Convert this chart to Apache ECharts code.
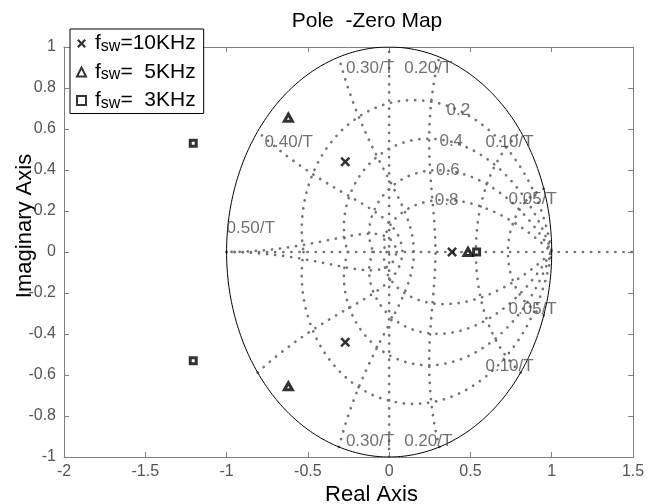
<!DOCTYPE html>
<html><head><meta charset="utf-8">
<script src="https://cdn.jsdelivr.net/npm/echarts@6/dist/echarts.min.js"></script>
<style>html,body{margin:0;padding:0;background:#fff}#c{width:650px;height:504px}</style>
</head><body><div id="c"></div>
<script>
// ---- data ----
const seriesNames = ['f_sw=10KHz', 'f_sw=  5KHz', 'f_sw=  3KHz'];
const poles10k = [[-0.27, 0.44], [-0.27, -0.44], [0.387, 0]];
const poles5k  = [[-0.62, 0.655], [-0.62, -0.655], [0.485, 0]];
const poles3k  = [[-1.205, 0.53], [-1.205, -0.53], [0.538, 0]];
// z-plane grid definition
const dampingRatios = [0.2, 0.4, 0.6, 0.8];
const natFreqs = [0.05, 0.10, 0.20, 0.30, 0.40, 0.50];      // x 1/T
const freqLabelsUpper = [0.05, 0.10, 0.20, 0.30, 0.40, 0.50];
const freqLabelsLower = [0.05, 0.10, 0.20, 0.30];
const xRange = [-2, 1.5], yRange = [-1, 1];
const xStep = 0.5, yStep = 0.2;
const titleText = 'Pole  -Zero Map';

// ---- geometry helpers ----
const N = 160;
function dampCurve(z) {
  const s = Math.sqrt(1 - z * z), wmax = Math.PI / s, up = [];
  for (let i = 0; i <= N; i++) {
    const w = wmax * i / N, r = Math.exp(-z * w), a = w * s;
    up.push([r * Math.cos(a), r * Math.sin(a)]);
  }
  const low = up.slice().reverse().map(p => [p[0], -p[1]]);
  return low.concat(up);
}
function freqPoint(f, zeta) {
  const th = 2 * Math.PI * f, r = Math.exp(-zeta * th), a = th * Math.sqrt(1 - zeta * zeta);
  return [r * Math.cos(a), r * Math.sin(a)];
}
function freqCurve(f) {
  const up = [];
  for (let i = 0; i <= N; i++) up.push(freqPoint(f, Math.sin(Math.PI / 2 * i / N)));
  const low = up.map(p => [p[0], -p[1]]);
  return low.concat(up.slice().reverse());
}
function unitCircle() {
  const pts = [];
  for (let i = 0; i <= 360; i++) { const a = i / 360 * 2 * Math.PI; pts.push([Math.cos(a), Math.sin(a)]); }
  return pts;
}

const dotStyle = { color: '#737373', width: 2.7, type: [0.1, 8], cap: 'round' };
const gridSeries = [];
dampingRatios.forEach(z => gridSeries.push({ type: 'line', data: dampCurve(z), showSymbol: false, silent: true, lineStyle: dotStyle, z: 1 }));
natFreqs.forEach(f => gridSeries.push({ type: 'line', data: freqCurve(f), showSymbol: false, silent: true, lineStyle: dotStyle, z: 1 }));
gridSeries.push({ type: 'line', data: [[-1, 0], [xRange[1], 0]], showSymbol: false, silent: true, lineStyle: dotStyle, z: 1 });
gridSeries.push({ type: 'line', data: [[0, yRange[0]], [0, yRange[1]]], showSymbol: false, silent: true, lineStyle: dotStyle, z: 1 });
gridSeries.push({ type: 'line', data: unitCircle(), showSymbol: false, silent: true, lineStyle: { color: '#000', width: 1 }, z: 2 });

// grid labels
const labelData = [];
function freqLabel(f, sign) {
  const p = freqPoint(f, 0); p[1] *= sign;
  const dy = sign > 0 ? 11 : -6;
  let align = p[0] > 0.01 ? 'right' : 'left';
  let offset = p[0] > 0.01 ? [13, dy] : [7, dy];
  if (f >= 0.5) { align = 'left'; offset = [0, -24]; }
  labelData.push({ value: p, name: f.toFixed(2) + '/T', label: { align: align, offset: offset } });
}
freqLabelsUpper.forEach(f => freqLabel(f, 1));
freqLabelsLower.forEach(f => freqLabel(f, -1));
dampingRatios.forEach(z => {
  const w = 1.04, s = Math.sqrt(1 - z * z), r = Math.exp(-z * w);
  labelData.push({ value: [r * Math.cos(w * s), r * Math.sin(w * s)], name: String(z), label: { align: 'center', offset: [0, 0] } });
});

const xShape = 'path://M0,1.8L1.8,0L5,3.2L8.2,0L10,1.8L6.8,5L10,8.2L8.2,10L5,6.8L1.8,10L0,8.2L3.2,5Z';
const markerSeries = [
  { name: seriesNames[0], type: 'scatter', data: poles10k, symbol: xShape, symbolSize: 10, itemStyle: { color: '#000' }, z: 5 },
  { name: seriesNames[1], type: 'scatter', data: poles5k, symbol: 'triangle', symbolSize: [8, 7], itemStyle: { color: '#fff', borderColor: '#000', borderWidth: 3 }, z: 5 },
  { name: seriesNames[2], type: 'scatter', data: poles3k, symbol: 'rect', symbolSize: 6, itemStyle: { color: '#fff', borderColor: '#000', borderWidth: 3 }, z: 5 }
];

const labelSeries = {
  type: 'scatter', data: labelData, symbolSize: 1, silent: true, itemStyle: { color: 'transparent' }, z: 4,
  label: { show: true, position: 'inside', formatter: p => p.name, color: '#4d4d4d', fontSize: 17, fontFamily: 'Liberation Sans' }
};

const fmt = v => String(Math.round(v * 10) / 10);
const axisCommon = {
  type: 'value', axisLine: { onZero: false, lineStyle: { color: '#808080', width: 1 } },
  axisTick: { inside: true, length: 5, lineStyle: { color: '#808080' } },
  splitLine: { show: false }
};
const labelStyle = { color: '#555', fontSize: 16, fontFamily: 'Liberation Sans', formatter: fmt };

const chart = echarts.init(document.getElementById('c'), null, { renderer: 'canvas' });
chart.setOption({
  backgroundColor: '#fff',
  animation: false,
  textStyle: { fontFamily: 'Liberation Sans' },
  grid: { left: 64, right: 17, top: 47, bottom: 47, outerBoundsMode: 'none', containLabel: false },
  graphic: [{ type: 'text', x: 367, y: 21, z: 10, style: { text: titleText, fontSize: 21, fontFamily: 'Liberation Sans', fill: '#000', textAlign: 'center', textVerticalAlign: 'middle' } }],
  xAxis: [
    Object.assign({}, axisCommon, { min: xRange[0], max: xRange[1], interval: xStep, position: 'bottom',
      axisLabel: Object.assign({ margin: 7 }, labelStyle),
      name: 'Real Axis', nameLocation: 'middle', nameGap: 27, nameMoveOverlap: false,
      nameTextStyle: { fontSize: 22, color: '#000', fontFamily: 'Liberation Sans', padding: [0, 0, 0, 46] } }),
    Object.assign({}, axisCommon, { min: xRange[0], max: xRange[1], interval: xStep, position: 'top', axisLabel: { show: false } })
  ],
  yAxis: [
    Object.assign({}, axisCommon, { min: yRange[0], max: yRange[1], interval: yStep, position: 'left',
      axisLabel: Object.assign({ margin: 8 }, labelStyle),
      name: 'Imaginary Axis', nameLocation: 'middle', nameGap: 28, nameMoveOverlap: false,
      nameTextStyle: { fontSize: 22, color: '#000', fontFamily: 'Liberation Sans', padding: [0, 0, 0, 52] } }),
    Object.assign({}, axisCommon, { min: yRange[0], max: yRange[1], interval: yStep, position: 'right', axisLabel: { show: false } })
  ],
  legend: {
    orient: 'vertical', left: 70, top: 29, itemWidth: 9, itemHeight: 9, itemGap: 7,
    padding: [4, 8, 2, 6], borderColor: '#000', borderWidth: 1, backgroundColor: '#fff', borderRadius: 0,
    selectedMode: false, z: 20, data: seriesNames,
    formatter: n => '{g|}{a|f}{s|sw}{a|' + n.slice(4) + '}',
    textStyle: { rich: {
      g: { width: 4, lineHeight: 22 },
      a: { fontSize: 21, fontFamily: 'Liberation Sans', color: '#000', lineHeight: 22, verticalAlign: 'middle' },
      s: { fontSize: 16, fontFamily: 'Liberation Sans', color: '#000', lineHeight: 15, verticalAlign: 'bottom' }
    } }
  },
  series: gridSeries.concat([labelSeries]).concat(markerSeries)
});
</script></body></html>
